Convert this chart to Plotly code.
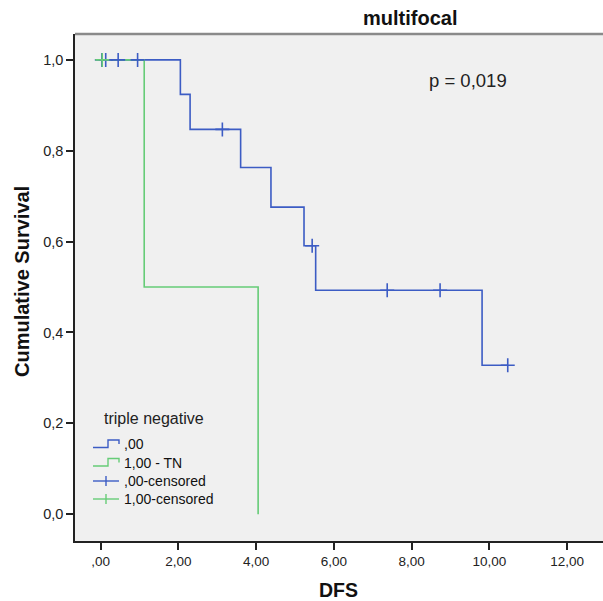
import plotly.graph_objects as go

# ---- data ----
grp0_time = [0.0, 2.05, 2.30, 3.60, 4.38, 5.23, 5.53, 9.81, 10.47]
grp0_surv = [1.0, 0.924, 0.847, 0.763, 0.676, 0.591, 0.493, 0.328, 0.328]
grp0_cens_time = [0.03, 0.13, 0.45, 0.95, 3.13, 5.44, 7.37, 8.73, 10.47]
grp0_cens_surv = [1.0, 1.0, 1.0, 1.0, 0.847, 0.591, 0.493, 0.493, 0.328]

grp1_time = [0.0, 1.12, 4.05]
grp1_surv = [1.0, 0.5, 0.0]
grp1_cens_time = [0.04]
grp1_cens_surv = [1.0]

x_tickvals = [0, 2, 4, 6, 8, 10, 12]
x_ticktext = [",00", "2,00", "4,00", "6,00", "8,00", "10,00", "12,00"]
y_tickvals = [0.0, 0.2, 0.4, 0.6, 0.8, 1.0]
y_ticktext = ["0,0", "0,2", "0,4", "0,6", "0,8", "1,0"]

legend_labels = [",00", "1,00 - TN", ",00-censored", "1,00-censored"]

BLUE = "#3c5cc4"
GREEN = "#66cc77"
FONT = "Liberation Sans, Arial, sans-serif"

fig = go.Figure()

fig.add_trace(go.Scatter(x=grp0_time, y=grp0_surv, mode="lines", line_shape="hv",
                         line=dict(color=BLUE, width=1.6), name=legend_labels[0]))
fig.add_trace(go.Scatter(x=grp1_time, y=grp1_surv, mode="lines", line_shape="hv",
                         line=dict(color=GREEN, width=1.6), name=legend_labels[1]))

mk = dict(symbol="cross-thin", size=10)
fig.add_trace(go.Scatter(x=grp0_cens_time, y=grp0_cens_surv, mode="markers",
                         marker=dict(**mk, color=BLUE, line=dict(color=BLUE, width=1.6)),
                         name=legend_labels[2]))
fig.add_trace(go.Scatter(x=grp1_cens_time, y=grp1_cens_surv, mode="markers",
                         marker=dict(**mk, color=GREEN, line=dict(color=GREEN, width=1.6)),
                         name=legend_labels[3]))

W, H = 603, 601
L, R, T, B = 75, 0, 34, 60
pw, ph = W - L - R, H - T - B

def px_x(p):
    return (p - L) / pw

def px_y(p):
    return (H - B - p) / ph

# ---- hand-drawn legend (SPSS style icons) ----
shapes = [dict(type="line", xref="paper", yref="paper", x0=0, x1=1, y0=1, y1=1,
               line=dict(color="#8a8a8a", width=2.5))]
annotations = []
legend_colors = [BLUE, GREEN, BLUE, GREEN]
legend_rows = [444, 462.5, 481, 499]
for i, (lab, col, yc) in enumerate(zip(legend_labels, legend_colors, legend_rows)):
    if i < 2:
        path = (f"M {px_x(93)} {px_y(yc + 3.5)} L {px_x(108)} {px_y(yc + 3.5)} "
                f"L {px_x(108)} {px_y(yc - 4)} L {px_x(119)} {px_y(yc - 4)} "
                f"L {px_x(119)} {px_y(yc)}")
        shapes.append(dict(type="path", xref="paper", yref="paper", path=path,
                           line=dict(color=col, width=1.4)))
    else:
        shapes.append(dict(type="line", xref="paper", yref="paper",
                           x0=px_x(93), x1=px_x(119), y0=px_y(yc), y1=px_y(yc),
                           line=dict(color=col, width=1.4)))
        shapes.append(dict(type="line", xref="paper", yref="paper",
                           x0=px_x(106), x1=px_x(106), y0=px_y(yc - 5), y1=px_y(yc + 5),
                           line=dict(color=col, width=1.4)))
    annotations.append(dict(text=lab, xref="paper", yref="paper", x=px_x(122), y=px_y(yc),
                            xanchor="left", yanchor="middle", showarrow=False,
                            font=dict(size=14, color="#111111")))

annotations += [
    dict(text="triple negative", xref="paper", yref="paper", x=px_x(102), y=px_y(418),
         xanchor="left", yanchor="middle", showarrow=False,
         font=dict(size=16, color="#222222")),
    dict(text="<b>multifocal</b>", xref="paper", yref="paper", x=px_x(410), y=px_y(18),
         xanchor="center", yanchor="middle", showarrow=False,
         font=dict(size=20, color="#111111")),
    dict(text="p = 0,019", xref="paper", yref="paper", x=px_x(468), y=px_y(80),
         xanchor="center", yanchor="middle", showarrow=False,
         font=dict(size=18.5, color="#222222")),
    dict(text="<b>Cumulative Survival</b>", xref="paper", yref="paper", x=px_x(22), y=px_y(282),
         xanchor="center", yanchor="middle", textangle=-90, showarrow=False,
         font=dict(size=20, color="#111111")),
    dict(text="<b>DFS</b>", xref="paper", yref="paper", x=px_x(338), y=px_y(590),
         xanchor="center", yanchor="middle", showarrow=False,
         font=dict(size=19.5, color="#111111")),
]

fig.update_layout(
    width=W, height=H,
    margin=dict(l=L, r=R, t=T, b=B, autoexpand=False),
    paper_bgcolor="white",
    plot_bgcolor="#f0f0f0",
    font=dict(family=FONT, color="#222222"),
    showlegend=False,
    xaxis=dict(range=[-0.66, 12.92], tickvals=x_tickvals, ticktext=x_ticktext,
               ticks="outside", ticklen=7, tickwidth=1.5, tickcolor="#222222",
               showline=True, linecolor="#222222", linewidth=1.5,
               showgrid=False, zeroline=False, tickfont=dict(size=13.5)),
    yaxis=dict(range=[-0.059, 1.057], tickvals=y_tickvals, ticktext=y_ticktext,
               ticks="outside", ticklen=7, tickwidth=1.5, tickcolor="#222222",
               showline=True, linecolor="#222222", linewidth=1.5,
               showgrid=False, zeroline=False, tickfont=dict(size=14.5)),
    shapes=shapes,
    annotations=annotations,
)

fig.write_html("out.html", config={"displayModeBar": False},
               post_script="document.body.style.margin='0';document.body.style.overflow='hidden';")
